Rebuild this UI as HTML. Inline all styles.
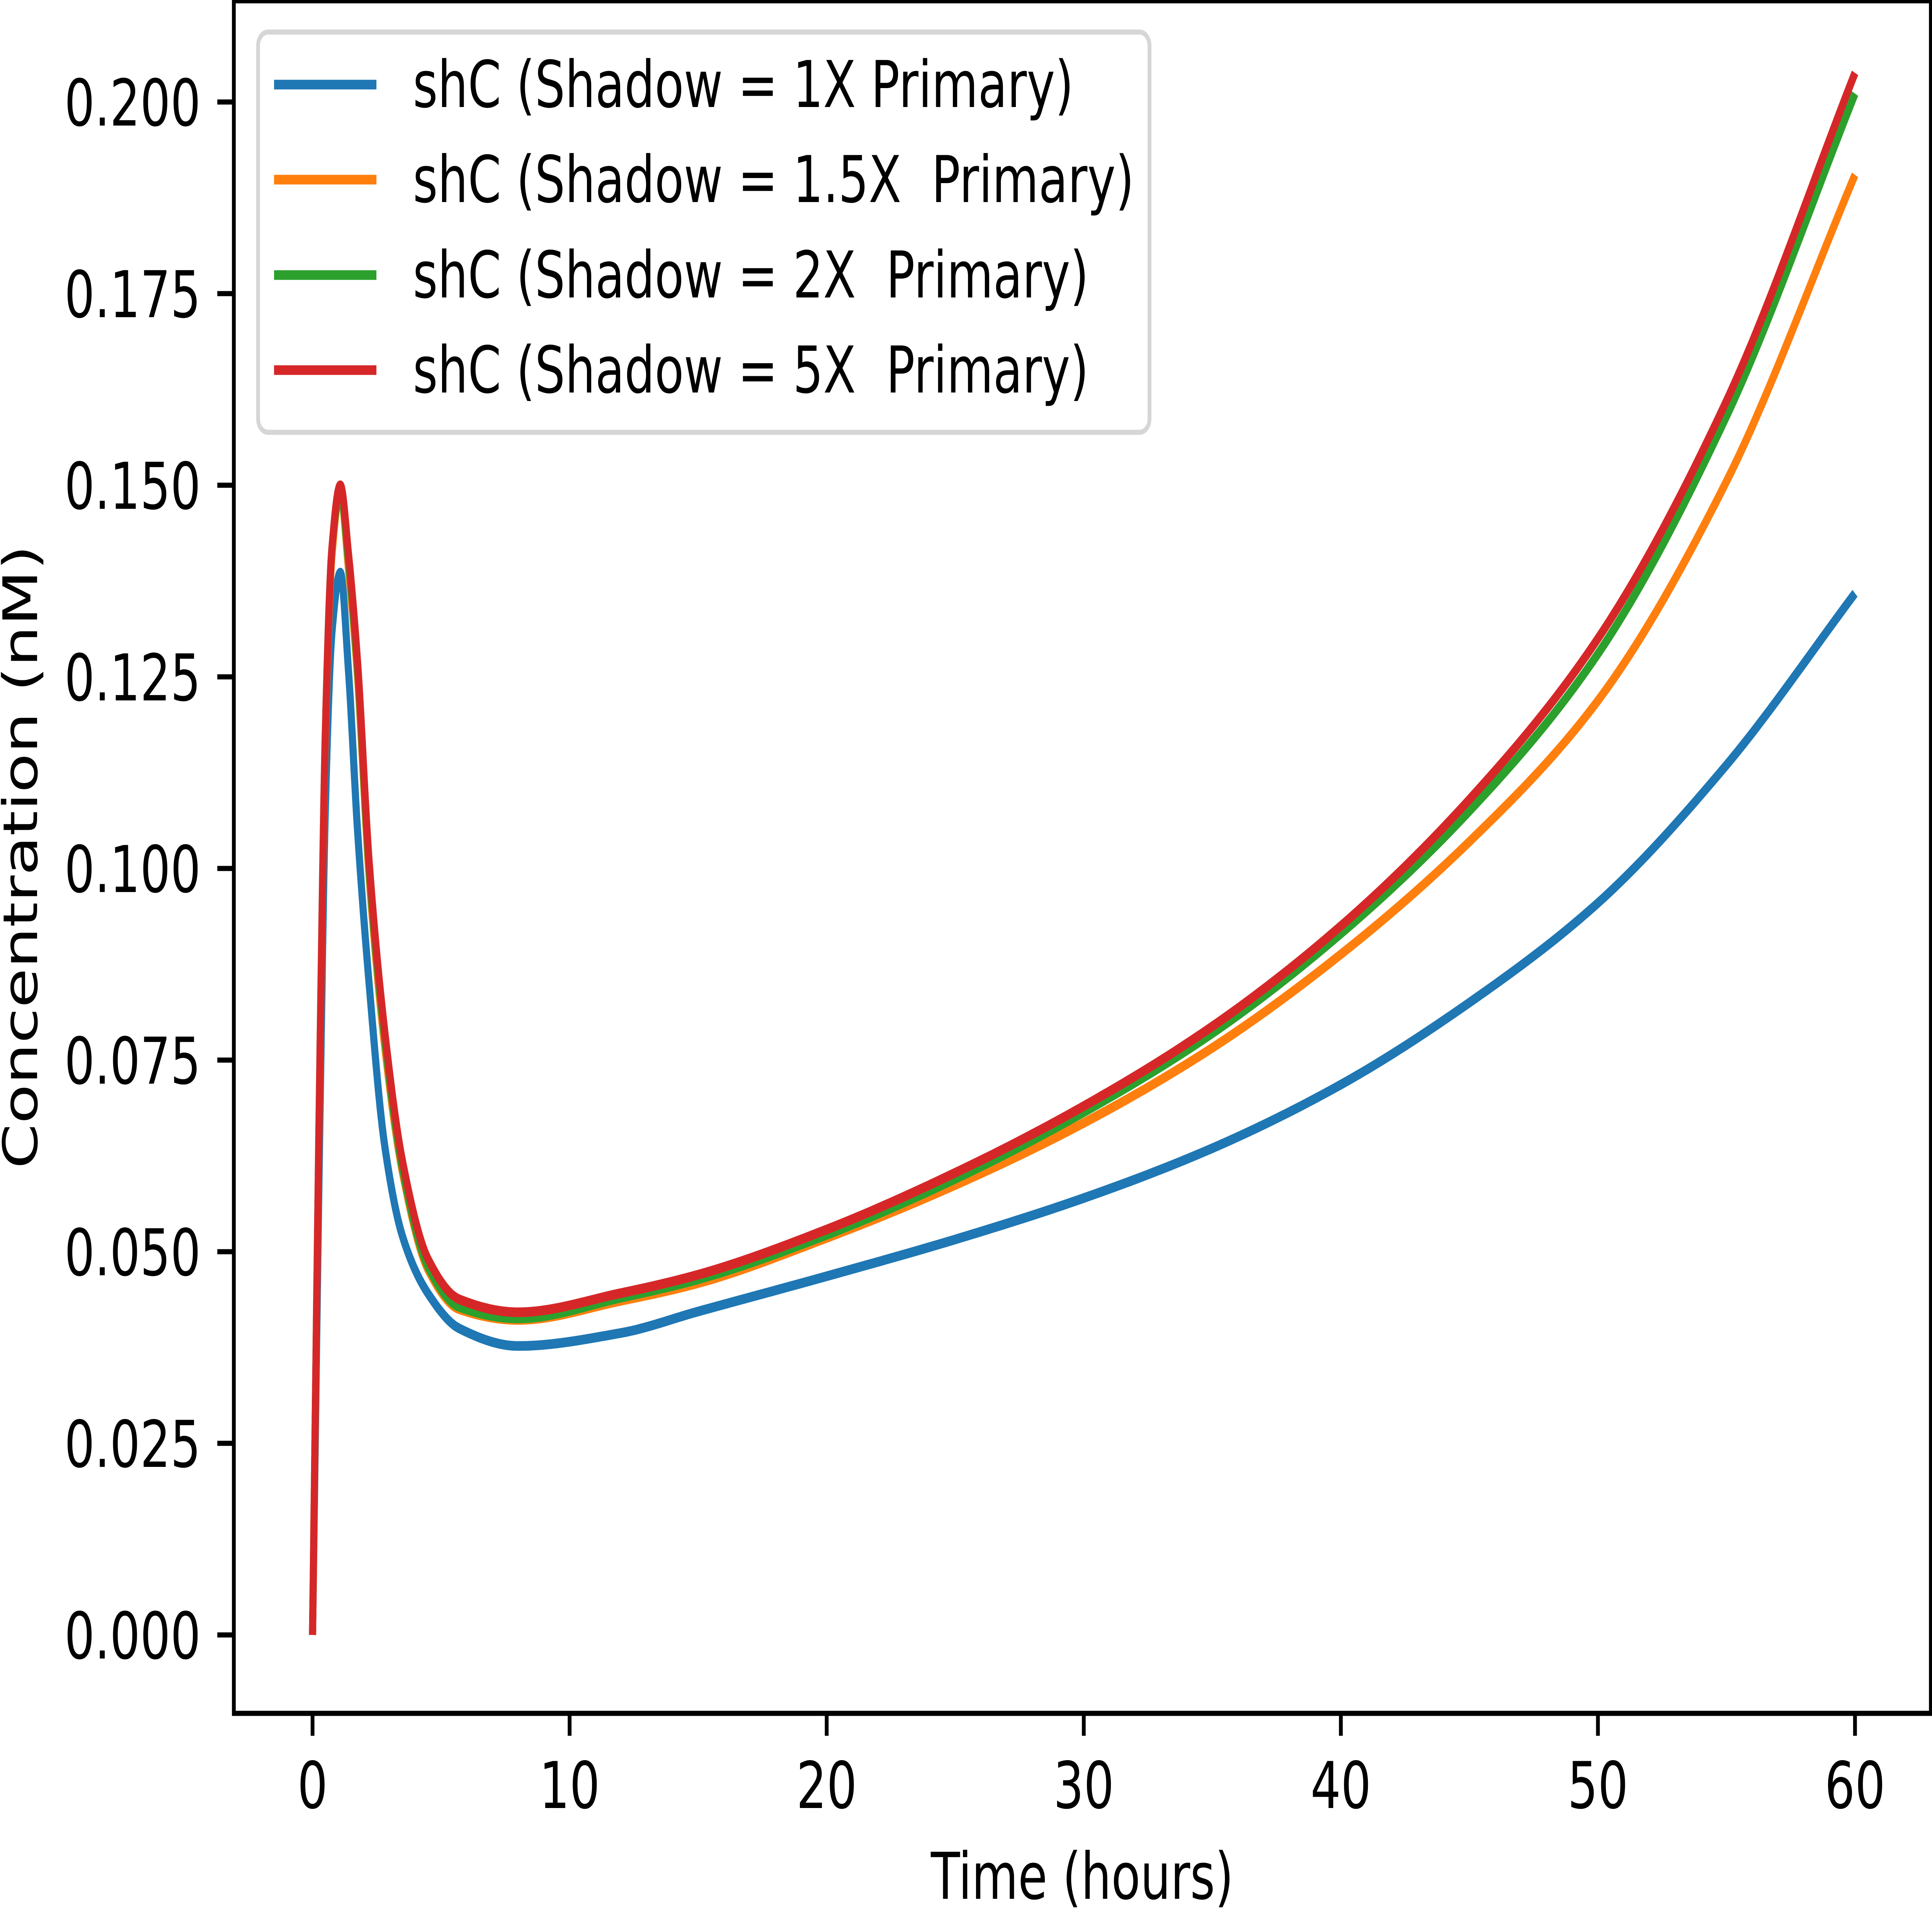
<!DOCTYPE html>
<html><head><meta charset="utf-8"><style>
html,body{margin:0;padding:0;background:#fff;width:100%;height:100%;overflow:hidden}
svg{display:block;position:fixed;left:0;top:0;width:100vw;height:100vh}
text{font-family:"DejaVu Sans","Liberation Sans",sans-serif;font-size:167px;fill:#000;white-space:pre}
</style></head><body>
<svg id="chart" viewBox="0 0 6775 4944" preserveAspectRatio="none" xmlns="http://www.w3.org/2000/svg">
<defs><clipPath id="plotclip"><rect x="820" y="2" width="5951" height="4433"/></clipPath></defs>
<rect width="6775" height="4944" fill="#fff"/>
<g id="series" clip-path="url(#plotclip)"></g>
<rect x="820" y="2" width="5951" height="4433" fill="none" stroke="#000" stroke-width="13.3"/>
<g id="xticks"></g>
<g id="yticks"></g>
<text x="3795" y="4915" text-anchor="middle">Time (hours)</text>
<text transform="translate(130,2218) rotate(-90)" text-anchor="middle">Concentration (nM)</text>
<g>
<rect x="905" y="83" width="3126" height="1036" rx="35" fill="#fff" fill-opacity="0.8" stroke="#d6d6d6" stroke-width="13.3"/>
<g><line x1="961" x2="1320" y1="219" y2="219" stroke="#1f77b4" stroke-width="25"/><text x="1448" y="277">shC (Shadow = 1X Primary)</text></g>
<g><line x1="961" x2="1320" y1="465" y2="465" stroke="#ff7f0e" stroke-width="25"/><text x="1448" y="523">shC (Shadow = 1.5X  Primary)</text></g>
<g><line x1="961" x2="1320" y1="712" y2="712" stroke="#2ca02c" stroke-width="25"/><text x="1448" y="770">shC (Shadow = 2X  Primary)</text></g>
<g><line x1="961" x2="1320" y1="958" y2="958" stroke="#d62728" stroke-width="25"/><text x="1448" y="1016">shC (Shadow = 5X  Primary)</text></g>
</g>
</svg>
<script>
const times = [0,0.3,0.5,0.76,1.08,1.4,1.75,2.2,2.8,3.5,4.5,5.7,8,12,15,20,25,30,35,40,45,50,55,60];
const blue1x = [0,0.070,0.108,0.131,0.1386,0.1257,0.105,0.085,0.064,0.052,0.0445,0.0400,0.0377,0.0394,0.0422,0.0468,0.0516,0.057,0.0635,0.0718,0.0825,0.0955,0.1135,0.1359];
const orange15x = [0,0.077,0.117,0.141,0.149,0.139,0.125,0.099,0.077,0.0603,0.0476,0.0425,0.0411,0.0436,0.0459,0.0518,0.0587,0.0668,0.0766,0.0888,0.1035,0.1219,0.1505,0.1905];
const green2x = [0,0.078,0.118,0.142,0.149,0.140,0.126,0.100,0.078,0.0608,0.0480,0.0428,0.0413,0.0440,0.0464,0.0522,0.0595,0.0682,0.0785,0.0915,0.1075,0.1280,0.159,0.2011];
const red5x = [0,0.078,0.118,0.142,0.150,0.141,0.127,0.101,0.079,0.0618,0.049,0.0438,0.0421,0.0446,0.0470,0.0529,0.0603,0.069,0.0794,0.0925,0.1090,0.1300,0.161,0.2038];
const xTicks = [0,10,20,30,40,50,60];
const yTicks = [0,0.025,0.05,0.075,0.1,0.125,0.15,0.175,0.2];
const yTickLabels = ["0.000","0.025","0.050","0.075","0.100","0.125","0.150","0.175","0.200"];

const NS = "http://www.w3.org/2000/svg";
function xs(t){ return 1096 + t * 90.15; }
function ys(v){ return 4232 - v / 0.025 * 496; }

function pathFor(tt, vv){
  const n = tt.length, d = [], m = new Array(n);
  for (let i=0;i<n-1;i++) d.push((vv[i+1]-vv[i])/(tt[i+1]-tt[i]));
  m[0]=d[0]; m[n-1]=d[n-2];
  for (let i=1;i<n-1;i++){
    if (d[i-1]*d[i] <= 0) m[i]=0;
    else {
      const h0=tt[i]-tt[i-1], h1=tt[i+1]-tt[i];
      const w1=2*h1+h0, w2=h1+2*h0;
      m[i]=(w1+w2)/(w1/d[i-1]+w2/d[i]);
    }
  }
  let s = "M" + xs(tt[0]).toFixed(1) + "," + ys(vv[0]).toFixed(1);
  for (let i=0;i<n-1;i++){
    const h = tt[i+1]-tt[i], steps = 24;
    for (let k=1;k<=steps;k++){
      const u = k/steps, u2=u*u, u3=u2*u;
      const v = (2*u3-3*u2+1)*vv[i] + (u3-2*u2+u)*h*m[i] + (-2*u3+3*u2)*vv[i+1] + (u3-u2)*h*m[i+1];
      s += " L" + xs(tt[i]+u*h).toFixed(1) + "," + ys(v).toFixed(1);
    }
  }
  return s;
}

const g = document.getElementById("series");
const seriesList = [[blue1x,"#1f77b4","series-1x"],[orange15x,"#ff7f0e","series-1-5x"],[green2x,"#2ca02c","series-2x"],[red5x,"#d62728","series-5x"]];
seriesList.forEach(s=>{
  const el = document.createElementNS(NS,"path");
  el.setAttribute("d", pathFor(times, s[0]));
  el.setAttribute("fill","none");
  el.setAttribute("stroke", s[1]);
  el.setAttribute("stroke-width","25");
  el.setAttribute("stroke-linejoin","round");
  
  
  g.appendChild(el);
});

const xg = document.getElementById("xticks");
xTicks.forEach(t=>{
  const l = document.createElementNS(NS,"line");
  l.setAttribute("x1", xs(t)); l.setAttribute("x2", xs(t));
  l.setAttribute("y1", 4435); l.setAttribute("y2", 4493);
  l.setAttribute("stroke","#000"); l.setAttribute("stroke-width","13.3");
  
  
  xg.appendChild(l);
  const tx = document.createElementNS(NS,"text");
  tx.setAttribute("x", xs(t)); tx.setAttribute("y", 4680);
  tx.setAttribute("text-anchor","middle");
  tx.textContent = String(t);
  
  
  xg.appendChild(tx);
});

const yg = document.getElementById("yticks");
yTicks.forEach((v,i)=>{
  const l = document.createElementNS(NS,"line");
  l.setAttribute("x1", 762); l.setAttribute("x2", 820);
  l.setAttribute("y1", ys(v)); l.setAttribute("y2", ys(v));
  l.setAttribute("stroke","#000"); l.setAttribute("stroke-width","13.3");
  
  
  yg.appendChild(l);
  const tx = document.createElementNS(NS,"text");
  tx.setAttribute("x", 704); tx.setAttribute("y", ys(v) + 61);
  tx.setAttribute("text-anchor","end");
  tx.textContent = yTickLabels[i];
  
  
  yg.appendChild(tx);
});
</script>
</body></html>
